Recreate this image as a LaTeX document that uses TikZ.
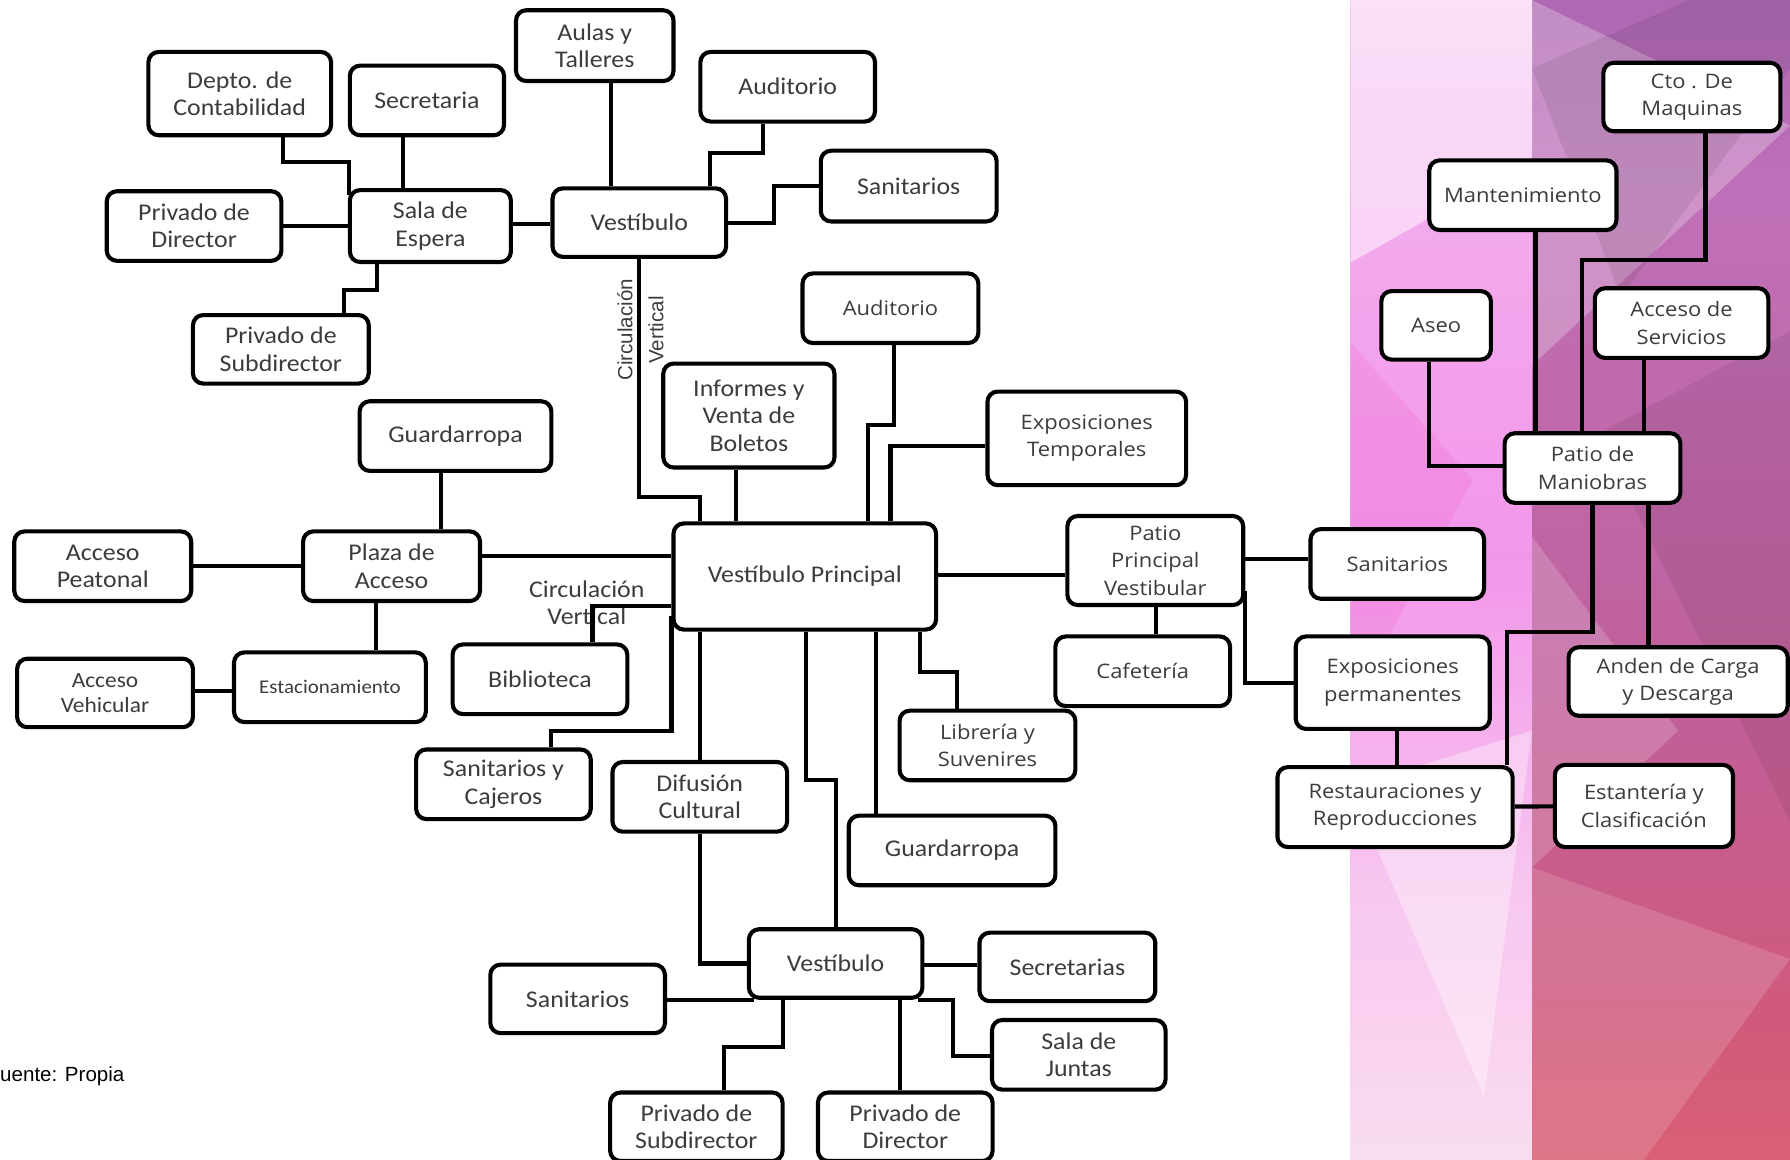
\documentclass[tikz,border=0pt]{standalone}
\usepackage{fontspec}
\setmainfont[FakeStretch=1.08]{Carlito}
\newfontfamily\wfont[FakeStretch=1.1]{Open Sans}
\newfontfamily\afont{Liberation Sans}

\definecolor{txt}{HTML}{3C3C3C}
% left strip colours
\definecolor{lsA}{HTML}{F4A8C4}
\definecolor{lsB}{HTML}{FAE4EE}
\definecolor{lsC}{HTML}{F8C8F0}
\definecolor{lsD}{HTML}{F296EA}
\definecolor{lsE}{HTML}{F4B0EE}
\definecolor{lsF}{HTML}{F8E4F6}
\definecolor{lsG}{HTML}{F6F6FA}
% right strip colours
\definecolor{rsA}{HTML}{F49474}
\definecolor{rsB}{HTML}{E86868}
\definecolor{rsC}{HTML}{D05A7C}
\definecolor{rsD}{HTML}{C0609C}
\definecolor{rsE}{HTML}{C070B8}
\definecolor{rsF}{HTML}{9A60AE}
\definecolor{rsG}{HTML}{9C80C0}

\pgfdeclareverticalshading{stripL}{100bp}{color(0bp)=(lsA); color(21bp)=(lsB); color(36bp)=(lsC); color(51bp)=(lsD); color(70bp)=(lsE); color(85bp)=(lsF); color(100bp)=(lsG)}
\pgfdeclareverticalshading{stripR}{100bp}{color(0bp)=(rsA); color(16bp)=(rsB); color(31bp)=(rsC); color(46bp)=(rsD); color(66bp)=(rsE); color(85bp)=(rsF); color(100bp)=(rsG)}

\tikzset{
  box/.style={draw=black, line width=3.6pt, rounded corners=9pt, fill=white, align=center, inner sep=2pt, text=txt, font=\fontsize{21}{24}\selectfont},
  wbox/.style={box, font=\wfont\fontsize{17.5}{24}\selectfont},
  link/.style={draw=black, line width=3.6pt},
}

\begin{document}
\begin{tikzpicture}[x=1pt,y=-1pt]
\useasboundingbox (0,0) rectangle (1568,1016);

% background
\shade[shading=stripL] (1183,0) rectangle (1342,1016);
\shade[shading=stripR] (1342,0) rectangle (1568,1016);
\fill[white,opacity=0.25] (1342,0) -- (1568,110) -- (1342,320) -- cycle;
\fill[black,opacity=0.08] (1342,60) -- (1480,0) -- (1568,0) -- (1568,60) -- (1420,260) -- cycle;
\fill[black,opacity=0.07] (1400,380) -- (1568,290) -- (1568,720) -- cycle;
\fill[white,opacity=0.18] (1342,470) -- (1470,640) -- (1342,760) -- cycle;
\fill[white,opacity=0.35] (1183,690) -- (1342,640) -- (1300,960) -- cycle;
\fill[white,opacity=0.15] (1342,760) -- (1568,840) -- (1440,1016) -- (1342,1016) -- cycle;
\fill[white,opacity=0.5] (1183,0) -- (1342,0) -- (1342,140) -- (1183,230) -- cycle;
\fill[magenta,opacity=0.08] (1183,300) -- (1290,420) -- (1183,620) -- cycle;

% top left block
\node[box,minimum width=160,minimum height=73] (depto) at (210,82) {Depto. de\\Contabilidad};
\node[box,minimum width=135,minimum height=61] (secre) at (374,88) {Secretaria};
\node[box,minimum width=138,minimum height=62] (aulas) at (521,40) {Aulas y\\Talleres};
\node[box,minimum width=153,minimum height=61] (audA) at (690,76) {Auditorio};
\node[box,minimum width=154,minimum height=62] (sanA) at (796,163) {Sanitarios};
\node[box,minimum width=153,minimum height=61] (privdirA) at (170,198) {Privado de\\Director};
\node[box,minimum width=141,minimum height=63] (sala) at (377,198) {Sala de\\Espera};
\node[box,minimum width=152,minimum height=60] (vestA) at (560,195) {Vestíbulo};
\node[box,minimum width=154,minimum height=60] (privsubA) at (246,306) {Privado de\\Subdirector};
\node[rotate=90,align=center,text=txt,font=\afont\fontsize{18}{27}\selectfont] (circA) at (561,289) {Circulación\\Vertical};

% centre block
\node[box,minimum width=168,minimum height=61] (guardA) at (399,382) {Guardarropa};
\node[box,minimum width=150,minimum height=91] (informes) at (656,364) {Informes y\\Venta de\\Boletos};
\node[wbox,minimum width=154,minimum height=61] (audB) at (780,270) {Auditorio};
\node[wbox,minimum width=174,minimum height=82] (exptemp) at (952,384) {Exposiciones\\Temporales};
\node[box,minimum width=230,minimum height=93] (vp) at (705,505) {Vestíbulo Principal};
\node[box,minimum width=155,minimum height=61] (plaza) at (343,496) {Plaza de\\Acceso};
\node[box,minimum width=155,minimum height=61] (peatonal) at (90,496) {Acceso\\Peatonal};
\node[box,minimum width=154,minimum height=60,font=\fontsize{19}{22}\selectfont] (vehicular) at (92,607) {Acceso\\Vehicular};
\node[box,minimum width=168,minimum height=61,font=\fontsize{17}{20}\selectfont] (estac) at (289,602) {Estacionamiento};
\node[align=center,text=txt,font=\fontsize{21}{24}\selectfont] (circB) at (514,528) {Circulación\\Vertical};
\node[box,minimum width=153,minimum height=61] (biblio) at (473,595) {Biblioteca};
\node[box,minimum width=153,minimum height=61] (sancaj) at (441,687) {Sanitarios y\\Cajeros};
\node[box,minimum width=153,minimum height=61] (difusion) at (613,698) {Difusión\\Cultural};
\node[box,minimum width=181,minimum height=61] (guardB) at (834,745) {Guardarropa};
\node[wbox,minimum width=154,minimum height=61] (libreria) at (865,653) {Librería y\\Suvenires};
\node[wbox,minimum width=154,minimum height=78] (ppv) at (1012,491) {Patio\\Principal\\Vestibular};
\node[wbox,minimum width=153,minimum height=61] (cafe) at (1001,588) {Cafetería};

% bottom block
\node[box,minimum width=152,minimum height=60] (vestB) at (732,844) {Vestíbulo};
\node[box,minimum width=154,minimum height=60] (secres) at (935,847) {Secretarias};
\node[box,minimum width=153,minimum height=60] (sanB) at (506,875) {Sanitarios};
\node[box,minimum width=152,minimum height=61] (juntas) at (945,924) {Sala de\\Juntas};
\node[box,minimum width=151,minimum height=60] (privsubB) at (610,987) {Privado de\\Subdirector};
\node[box,minimum width=153,minimum height=60] (privdirB) at (793,987) {Privado de\\Director};

% right block
\node[wbox,minimum width=152,minimum height=61] (sanC) at (1224,494) {Sanitarios};
\node[wbox,minimum width=170,minimum height=81] (expperm) at (1220,598) {Exposiciones\\permanentes};
\node[wbox,minimum width=206,minimum height=70] (restaur) at (1222,707) {Restauraciones y\\Reproducciones};
\node[wbox,minimum width=156,minimum height=72] (estant) at (1440,706) {Estantería y\\Clasificación};
\node[wbox,minimum width=155,minimum height=60] (cto) at (1482,85) {Cto . De\\Maquinas};
\node[wbox,minimum width=164,minimum height=61] (mant) at (1334,171) {Mantenimiento};
\node[wbox,minimum width=96,minimum height=60] (aseo) at (1258,285) {Aseo};
\node[wbox,minimum width=152,minimum height=61] (accserv) at (1473,283) {Acceso de\\Servicios};
\node[wbox,minimum width=154,minimum height=61] (patioman) at (1395,410) {Patio de\\Maniobras};
\node[wbox,minimum width=192,minimum height=60] (anden) at (1470,597) {Anden de Carga\\y Descarga};

\node[anchor=west,inner sep=0pt,font=\afont\fontsize{18}{22}\selectfont] (fuente) at (0,943) {uente: Propia};

% links, top left
\draw[link,shorten >=-6pt] (depto.south -| 248,0) |- (306,142) -- (sala.north -| 306,0);
\draw[link] (secre.south -| 353,0) -- (sala.north -| 353,0);
\draw[link] (aulas.south -| 535,0) -- (vestA.north -| 535,0);
\draw[link] (audA.south -| 668,0) |- (622,134) -- (vestA.north -| 622,0);
\draw[link] (vestA.east) -| (678,163) -- (sanA.west);
\draw[link] (privdirA) -- (sala);
\draw[link] (sala.east |- 0,196) -- (vestA.west |- 0,196);
\draw[link] (sala.south -| 330,0) |- (301,254) -- (privsubA.north -| 301,0);
\draw[link] (vestA.south) |- (613,435) -- (vp.north -| 613,0);

% links, centre
\draw[link] (informes.south -| 645,0) -- (vp.north -| 645,0);
\draw[link] (audB.south -| 783,0) |- (760,372) -- (vp.north -| 760,0);
\draw[link] (exptemp.west |- 0,391) -| (vp.north -| 780,0);
\draw[link] (guardA.south -| 386,0) -- (plaza.north -| 386,0);
\draw[link] (peatonal) -- (plaza);
\draw[link] (plaza.east |- 0,487) -- (vp.west |- 0,487);
\draw[link] (plaza.south -| 329,0) -- (estac.north -| 329,0);
\draw[link] (vehicular.east |- 0,605) -- (estac.west |- 0,605);
\draw[link] (vp.west |- 0,531) -| (biblio.north -| 519,0);
\draw[link] (vp.west |- 0,540) |- (483,640) -- (sancaj.north -| 483,0);
\draw[link] (vp.south -| 613,0) -- (difusion.north -| 613,0);
\draw[link] (difusion.south) |- (vestB.west);
\draw[link] (vp.south -| 706,0) |- (732,683) -- (vestB.north);
\draw[link] (vp.south -| 767,0) -- (guardB.north -| 767,0);
\draw[link] (vp.south -| 806,0) |- (838,589) -- (libreria.north -| 838,0);
\draw[link] (vp.east |- 0,504) -- (ppv.west |- 0,504);
\draw[link] (ppv.south -| 1013,0) -- (cafe.north -| 1013,0);
\draw[link] (ppv.east |- 0,490) -- (sanC.west |- 0,490);
\draw[link] (ppv.east |- 0,518) |- (expperm.west);

% links, bottom
\draw[link] (vestB.east |- 0,845) -- (secres.west |- 0,845);
\draw[link,shorten >=-6pt] (sanB.east |- 0,876) -- (vestB.south west |- 0,876);
\draw[link] (vestB.south -| 686,0) |- (634,917) -- (privsubB.north -| 634,0);
\draw[link] (vestB.south -| 788,0) -- (privdirB.north -| 788,0);
\draw[link,shorten <=-6pt] (vestB.south east |- 0,876) -| (835,925) -- (juntas.west |- 0,925);

% links, right
\draw[link] (expperm.south -| 1224,0) -- (restaur.north -| 1224,0);
\draw[link] (restaur) -- (estant);
\draw[link] (mant.south -| 1345,0) -- (patioman.north -| 1345,0);
\draw[link] (cto.south -| 1494,0) |- (1386,228) -- (patioman.north -| 1386,0);
\draw[link] (aseo.south -| 1252,0) |- (patioman.west |- 0,408);
\draw[link] (accserv.south -| 1440,0) -- (patioman.north -| 1440,0);
\draw[link] (patioman.south -| 1444,0) -- (anden.north -| 1444,0);
\draw[link] (patioman.south -| 1395,0) |- (1320,554) -- (restaur.north -| 1320,0);
\end{tikzpicture}
\end{document}
